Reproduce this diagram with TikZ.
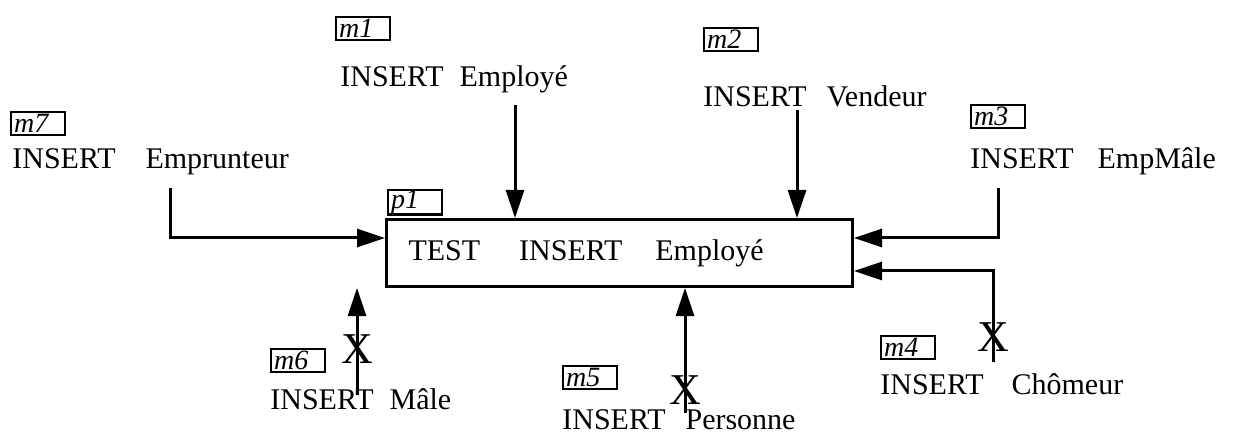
\documentclass[tikz,border=0pt]{standalone}
\usepackage{fontspec}
\setmainfont{Liberation Serif}
\usetikzlibrary{arrows.meta}

\tikzset{
  tag/.style={draw, line width=1.2pt, anchor=north west, inner xsep=1.5pt, inner ysep=0pt,
    minimum height=11.5pt, text width=24pt, font=\itshape\fontsize{14}{14}\selectfont},
  msg/.style={anchor=base west, inner sep=0pt, font=\fontsize{15}{15}\selectfont},
  flow/.style={line width=1.5pt, -{Triangle[length=14pt,width=9pt]}},
  cross/.style={inner sep=0pt, font=\fontsize{22}{22}\selectfont}
}

\begin{document}
\begin{tikzpicture}[x=0.5pt, y=-0.5pt]
\useasboundingbox (0,0) rectangle (1242,438);

% Process
\node[tag] (p1-tag) at (387,189) {p1};
\node[draw, line width=1.5pt, anchor=north west, minimum width=233pt, minimum height=33.5pt,
  inner xsep=11pt, text width=211pt, font=\fontsize{15}{15}\selectfont]
  (p1) at (385,218) {TEST\hspace{19.5pt}INSERT\hspace{16.5pt}Employé};

% Messages above
\node[tag] (m1-tag) at (335,16) {m1};
\node[msg] (m1-text) at (340,87) {INSERT\hspace{8pt}Employé};
\node[tag] (m2-tag) at (703,27) {m2};
\node[msg] (m2-text) at (703,107) {INSERT\hspace{10pt}Vendeur};
\node[tag] (m7-tag) at (10,111) {m7};
\node[msg] (m7-text) at (12,169) {INSERT\hspace{15pt}Emprunteur};
\node[tag] (m3-tag) at (970,104) {m3};
\node[msg] (m3-text) at (970,169) {INSERT\hspace{12pt}EmpMâle};

% Messages below
\node[tag] (m6-tag) at (270,348) {m6};
\node[msg] (m6-text) at (270,409) {INSERT\hspace{8pt}Mâle};
\node[tag] (m5-tag) at (562,365) {m5};
\node[msg] (m5-text) at (562,429) {INSERT\hspace{10pt}Personne};
\node[tag] (m4-tag) at (880,335) {m4};
\node[msg] (m4-text) at (880,394) {INSERT\hspace{14pt}Chômeur};

% Arrows
\coordinate (m1-from) at (515,105);
\coordinate (m2-from) at (797,110);
\coordinate (m7-from) at (170,188);
\coordinate (m3-from) at (998,188);
\coordinate (m4-from) at (993,362);
\coordinate (m5-from) at (685,413);
\coordinate (m6-from) at (357,395);
\draw[flow] (m1-from) -- (m1-from |- p1.north);
\draw[flow] (m2-from) -- (m2-from |- p1.north);
\draw[flow] (m7-from) |- ([yshift=7.5pt]p1.west);
\draw[flow] (m3-from) |- ([yshift=7.5pt]p1.east);
\draw[flow] (m4-from) |- ([yshift=-9pt]p1.east);
\draw[flow] (m5-from) -- (m5-from |- p1.south);
\draw[flow] (m6-from) -- (m6-from |- p1.south);

% Blocked
\node[cross] (m6-x) at (357,349) {X};
\node[cross] (m5-x) at (685,390) {X};
\node[cross] (m4-x) at (993,337) {X};

\end{tikzpicture}
\end{document}
